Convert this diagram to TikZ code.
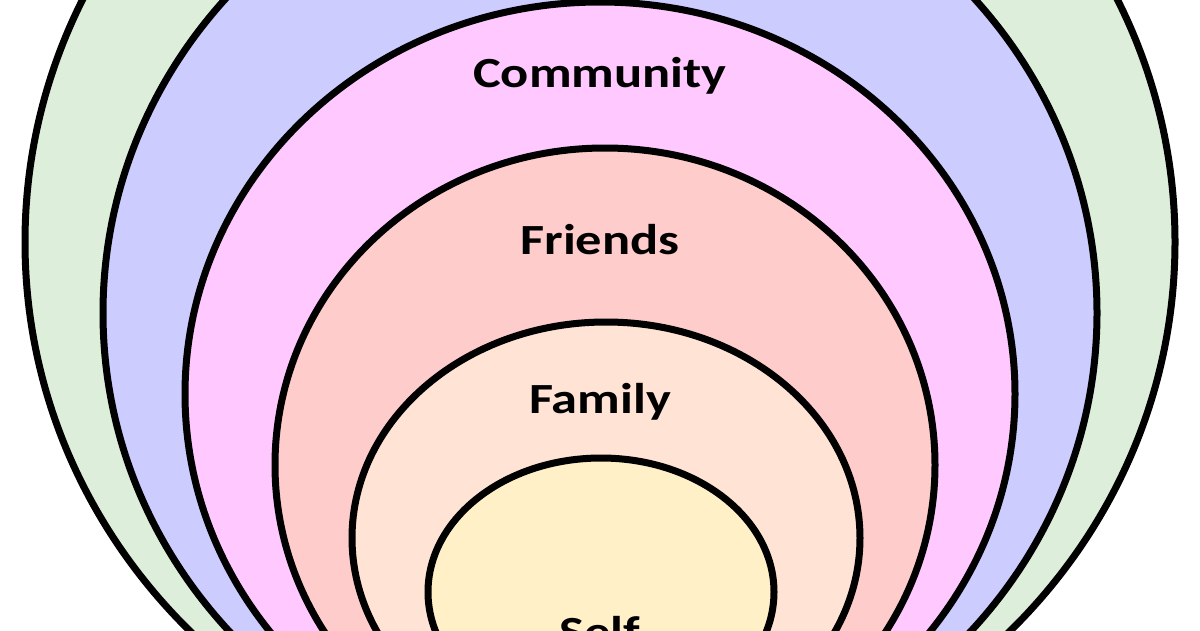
\documentclass[tikz,border=0pt]{standalone}
\usepackage{fontspec}
\setmainfont{Carlito}
\definecolor{cgreen}{HTML}{DDEFDA}
\definecolor{cblue}{HTML}{CCCCFF}
\definecolor{cpink}{HTML}{FFC9FF}
\definecolor{cred}{HTML}{FFCCCC}
\definecolor{cpeach}{HTML}{FFE4D6}
\definecolor{cyellow}{HTML}{FFF0C8}
\begin{document}
\begin{tikzpicture}[x=1pt,y=-1pt,
  ring/.style={draw=black,line width=7pt},
  lbl/.style={font=\fontsize{43}{48}\selectfont\bfseries,xscale=1.22}]
\useasboundingbox (0,0) rectangle (1200,630);
\clip (0,0) rectangle (1200,630);
\fill[white] (0,0) rectangle (1200,630);
\path[ring,fill=cgreen] (600,242) ellipse [x radius=575,y radius=555];
\path[ring,fill=cblue] (600,313) ellipse [x radius=497,y radius=478];
\path[ring,fill=cpink] (600,394) ellipse [x radius=415,y radius=392];
\path[ring,fill=cred] (605,465) ellipse [x radius=330,y radius=317];
\path[ring,fill=cpeach] (606,538) ellipse [x radius=254,y radius=216];
\path[ring,fill=cyellow] (601,592) ellipse [x radius=173,y radius=134];
\node[lbl] (community) at (600,76) {Community};
\node[lbl] (friends) at (600,240) {Friends};
\node[lbl] (family) at (600,402) {Family};
\node[lbl] (self) at (600,632) {Self};
\end{tikzpicture}
\end{document}
